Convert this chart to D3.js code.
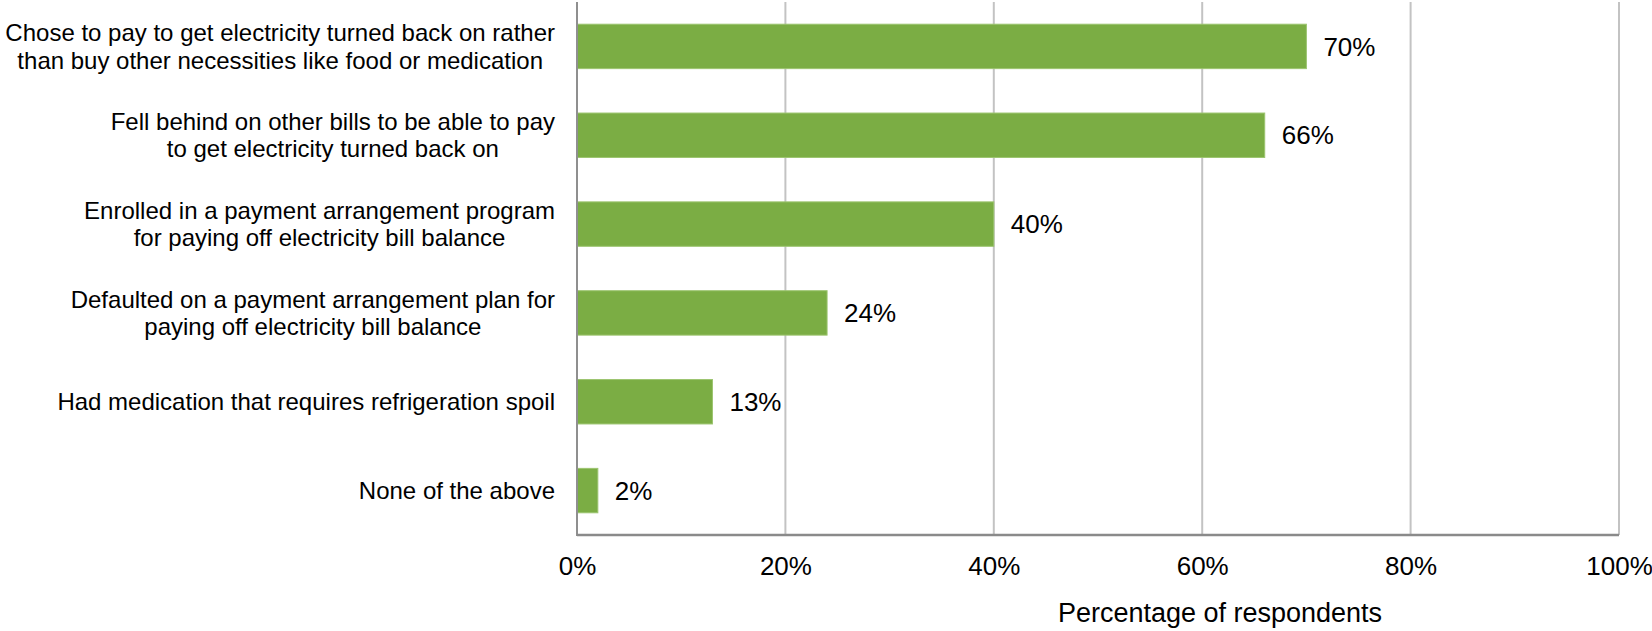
<!DOCTYPE html>
<html>
<head>
<meta charset="utf-8">
<script src="https://cdn.jsdelivr.net/npm/d3@7"></script>
<style>
  html, body { margin: 0; padding: 0; background: #ffffff; }
  svg { display: block; }
  text { font-family: Arial, "Liberation Sans", Helvetica, sans-serif; fill: #000; }
</style>
</head>
<body>
<svg id="chart" width="1652" height="631"></svg>
<script>
// Survey responses: actions taken after electricity was disconnected
const categories = [
  ["Chose to pay to get electricity turned back on rather", "than buy other necessities like food or medication"],
  ["Fell behind on other bills to be able to pay", "to get electricity turned back on"],
  ["Enrolled in a payment arrangement program", "for paying off electricity bill balance"],
  ["Defaulted on a payment arrangement plan for", "paying off electricity bill balance"],
  ["Had medication that requires refrigeration spoil"],
  ["None of the above"]
];
const values = [70, 66, 40, 24, 13, 2];
const tickValues = [0, 20, 40, 60, 80, 100];
const axisTitle = "Percentage of respondents";

const svg = d3.select("#chart");

const plot = { left: 577, right: 1619, top: 2, bottom: 535 };
const labelRight = 555;

const x = d3.scaleLinear().domain([0, 100]).range([plot.left, plot.right]);
const y = d3.scaleBand()
  .domain(d3.range(categories.length))
  .range([plot.top, plot.bottom])
  .paddingInner(0.5)
  .paddingOuter(0.25);

// vertical gridlines
svg.append("g")
  .selectAll("line")
  .data(tickValues.filter(d => d > 0))
  .join("line")
  .attr("x1", d => x(d)).attr("x2", d => x(d))
  .attr("y1", plot.top).attr("y2", plot.bottom)
  .attr("stroke", "#c3c3c3")
  .attr("stroke-width", 2);

// bars
svg.append("g")
  .selectAll("rect")
  .data(values)
  .join("rect")
  .attr("x", x(0))
  .attr("y", (d, i) => y(i))
  .attr("width", d => x(d) - x(0))
  .attr("height", y.bandwidth())
  .attr("fill", "#7bad44")
  .attr("stroke", "#9cc46f")
  .attr("stroke-width", 1);

// value labels
svg.append("g")
  .selectAll("text")
  .data(values)
  .join("text")
  .attr("x", d => x(d) + 17)
  .attr("y", (d, i) => y(i) + y.bandwidth() / 2)
  .attr("dy", "0.35em")
  .attr("font-size", 26)
  .text(d => d + "%");

// left axis line
svg.append("line")
  .attr("x1", x(0)).attr("x2", x(0))
  .attr("y1", plot.top).attr("y2", plot.bottom + 1)
  .attr("stroke", "#8f8f8f")
  .attr("stroke-width", 2);

// bottom axis
const xAxis = d3.axisBottom(x)
  .tickValues(tickValues)
  .tickSize(0)
  .tickPadding(0)
  .tickFormat(d => d + "%");

const gx = svg.append("g")
  .attr("transform", `translate(0,${plot.bottom})`)
  .call(xAxis);
gx.select(".domain")
  .attr("stroke", "#8a8a8a")
  .attr("stroke-width", 2.5)
  .attr("d", `M${x(0)},0H${x(100)}`);
gx.selectAll(".tick text")
  .attr("y", 40)
  .attr("dy", null)
  .attr("font-size", 26)
  .attr("font-family", null)
  .attr("fill", "#000");
gx.attr("font-family", null).attr("font-size", null);

// category labels: each block centred on itself, right edge on the label column
const catG = svg.append("g");
const lineH = 27.5;
categories.forEach((lines, i) => {
  const cy = y(i) + y.bandwidth() / 2;
  const t = catG.append("text")
    .attr("font-size", 24)
    .attr("text-anchor", "middle");
  lines.forEach((ln, j) => {
    t.append("tspan")
      .attr("x", 0)
      .attr("y", cy + (j - (lines.length - 1) / 2) * lineH)
      .attr("dy", "0.35em")
      .text(ln);
  });
  const w = d3.max(t.selectAll("tspan").nodes(), n => n.getComputedTextLength());
  t.selectAll("tspan").attr("x", labelRight - w / 2);
});

// axis title
svg.append("text")
  .attr("x", 1220)
  .attr("y", 622)
  .attr("text-anchor", "middle")
  .attr("font-size", 27)
  .text(axisTitle);
</script>
</body>
</html>
